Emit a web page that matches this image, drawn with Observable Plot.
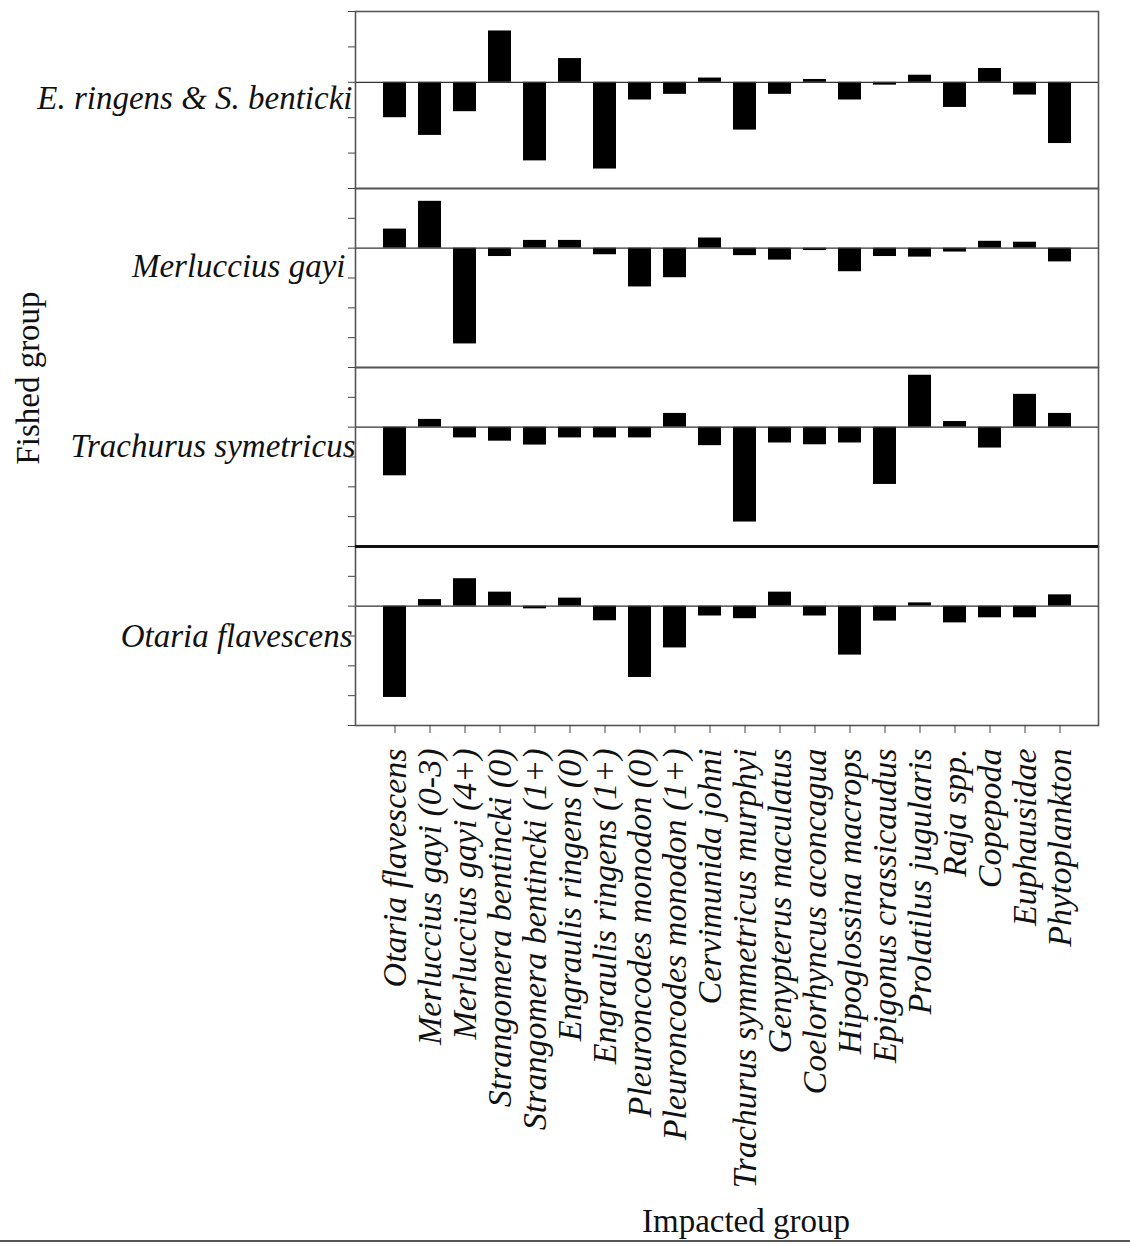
<!DOCTYPE html>
<html>
<head>
<meta charset="utf-8">
<script src="https://cdn.jsdelivr.net/npm/d3@7"></script>
<script src="https://cdn.jsdelivr.net/npm/@observablehq/plot@0.6"></script>
<style>
  body { margin: 0; background: #fff; }
  #wrap { position: relative; width: 1130px; height: 1244px; overflow: hidden;
          font-family: "Liberation Serif", "Times New Roman", serif; }
  #wrap svg { position: absolute; left: 0; overflow: visible; }
  .ylab { position: absolute; left: 28px; top: 378px; transform: translate(-50%, -50%) rotate(-90deg);
          font-size: 33px; white-space: nowrap; color: #111; line-height: 1; }
  .baseline { position: absolute; left: 0; top: 1240px; width: 1130px; height: 0; border-top: 2px solid #555; }
  g[aria-label="x-axis tick label"] text { font-style: italic; }
</style>
</head>
<body>
<div id="wrap"></div>
<script>
// ---------- data ----------
const impacted = [
  "Otaria flavescens", "Merluccius gayi (0-3)", "Merluccius gayi (4+)",
  "Strangomera bentincki (0)", "Strangomera bentincki (1+)", "Engraulis ringens (0)",
  "Engraulis ringens (1+)", "Pleuroncodes monodon (0)", "Pleuroncodes monodon (1+)",
  "Cervimunida johni", "Trachurus symmetricus murphyi", "Genypterus maculatus",
  "Coelorhyncus aconcagua", "Hipoglossina macrops", "Epigonus crassicaudus",
  "Prolatilus jugularis", "Raja spp.", "Copepoda", "Euphausidae", "Phytoplankton"
];
const fished = ["E. ringens & S. benticki", "Merluccius gayi", "Trachurus symetricus", "Otaria flavescens"];

const valuesEringens = [-1.0, -1.5, -0.83, 1.45, -2.22, 0.67, -2.45, -0.5, -0.34, 0.12,
                        -1.35, -0.34, 0.08, -0.5, -0.08, 0.2, -0.71, 0.39, -0.36, -1.73];
const valuesMerluccius = [0.64, 1.57, -3.21, -0.28, 0.26, 0.26, -0.22, -1.3, -0.99, 0.34,
                          -0.25, -0.4, -0.08, -0.79, -0.28, -0.3, -0.13, 0.23, 0.2, -0.46];
const valuesTrachurus = [-1.63, 0.26, -0.36, -0.47, -0.6, -0.36, -0.36, -0.36, 0.46, -0.62,
                         -3.18, -0.53, -0.59, -0.53, -1.92, 1.74, 0.19, -0.7, 1.1, 0.46];
const valuesOtaria = [-3.06, 0.22, 0.92, 0.47, -0.09, 0.27, -0.49, -2.39, -1.4, -0.33,
                      -0.42, 0.47, -0.33, -1.64, -0.5, 0.11, -0.56, -0.39, -0.39, 0.38];

const yTicksTop = [-3, -2, -1, 0, 1, 2];
const yTicks = [-4, -3, -2, -1, 0, 1, 2];

const xTitle = "Impacted group";
const yTitle = "Fished group";

// ---------- layout ----------
const series = [valuesEringens, valuesMerluccius, valuesTrachurus, valuesOtaria];
const tickSets = [yTicksTop, yTicks, yTicks, yTicks];
const layout = [
  {top: 0,   height: 189, marginTop: 11, marginBottom: 1,   dy: -2,  dx: -3},
  {top: 187, height: 181, marginTop: 1,  marginBottom: 1,   dy: -12, dx: -10},
  {top: 366, height: 181, marginTop: 1,  marginBottom: 1,   dy: -11, dx: 0},
  {top: 545, height: 699, marginTop: 1,  marginBottom: 519, dy: 0,   dx: -3}
];

const wrap = document.getElementById("wrap");

series.forEach((vals, i) => {
  const L = layout[i];
  const last = i === series.length - 1;
  const data = impacted.map((g, j) => ({group: g, value: vals[j]}));
  const ticks = tickSets[i];
  const marks = [
    Plot.barY(data, {x: "group", y: "value", fill: "#000"}),
    Plot.ruleY([0], {stroke: "#333", strokeWidth: 1.2}),
    Plot.frame({stroke: "#555", strokeWidth: 1.6}),
    Plot.axisY({ticks, tickSize: 7, tickFormat: () => "", stroke: "#444", label: null}),
    Plot.text([fished[i]], {text: d => d, frameAnchor: "left", textAnchor: "end", dx: L.dx, dy: L.dy,
                            fontSize: 33, fontStyle: "italic", fill: "#111"})
  ];
  if (i === 3) {
    marks.push(Plot.ruleY([d3.max(ticks)], {stroke: "#111", strokeWidth: 3}));
  }
  if (last) {
    marks.push(
      Plot.axisX({tickRotate: -90, tickSize: 8, tickPadding: 15, fontSize: 34, fontStyle: "italic",
                  stroke: "#444", fill: "#111", label: null}),
      Plot.text([xTitle], {text: d => d, frameAnchor: "bottom", dx: 19, dy: 506, fontSize: 33, fill: "#111"})
    );
  }
  const svg = Plot.plot({
    width: 1130,
    height: L.height,
    marginLeft: 355,
    marginRight: 32,
    marginTop: L.marginTop,
    marginBottom: L.marginBottom,
    style: {fontFamily: "'Liberation Serif', 'Times New Roman', serif", background: "transparent", overflow: "visible"},
    x: {domain: impacted, paddingInner: 0.356, paddingOuter: 0.57, ...(last ? {} : {axis: null})},
    y: {domain: d3.extent(ticks)},
    marks
  });
  svg.style.top = L.top + "px";
  wrap.appendChild(svg);
});

const yl = document.createElement("div");
yl.className = "ylab";
yl.textContent = yTitle;
wrap.appendChild(yl);

const bl = document.createElement("div");
bl.className = "baseline";
wrap.appendChild(bl);
</script>
</body>
</html>
